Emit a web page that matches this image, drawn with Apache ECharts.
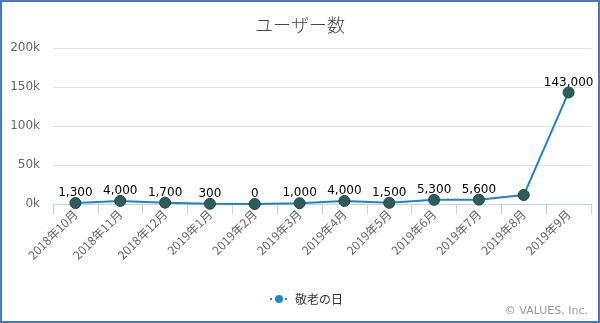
<!DOCTYPE html>
<html>
<head>
  <meta charset="utf-8">
  <title>ユーザー数</title>
  <style>
    html, body { margin: 0; padding: 0; background: #fff; }
    #main { width: 600px; height: 323px; }
    #frame { position: absolute; left: 0; top: 0; width: 600px; height: 323px;
      box-sizing: border-box; border: 2px solid #4a78b8; pointer-events: none; }
  </style>
</head>
<body>
  <div id="main"></div>
  <div id="frame"></div>
  <script src="https://cdn.jsdelivr.net/npm/echarts@6/dist/echarts.min.js"></script>
  <script>
  // 月
  var months = ['2018年10月', '2018年11月', '2018年12月', '2019年1月', '2019年2月', '2019年3月',
    '2019年4月', '2019年5月', '2019年6月', '2019年7月', '2019年8月', '2019年9月'];
  // ユーザー数（8月はラベルなし）
  var users = [1300, 4000, 1700, 300, 0, 1000, 4000, 1500, 5300, 5600, 11500, 143000];
  var hideLabel = [false, false, false, false, false, false, false, false, false, false, true, false];
  var seriesName = '敬老の日';

  var jp = '"Noto Sans CJK JP", sans-serif';

  var option = {
    animation: false,
    title: {
      text: 'ユーザー数',
      left: 'center',
      top: 11,
      textStyle: { fontSize: 18, fontWeight: 300, color: '#444', fontFamily: jp }
    },
    grid: { left: 53, right: 9, top: 48, bottom: 119, containLabel: false },
    legend: {
      data: [{ name: seriesName, itemStyle: { color: '#1a8ad0', borderWidth: 0 } }],
      left: 264,
      top: 288,
      itemWidth: 18,
      itemHeight: 10,
      itemGap: 6,
      lineStyle: { color: '#1a8ad0', width: 2, type: [2, 3] },
      textStyle: { fontSize: 12, color: '#333', fontFamily: jp, padding: [0, 0, 0, 2] }
    },
    xAxis: {
      type: 'category',
      data: months,
      boundaryGap: true,
      axisLine: { lineStyle: { color: '#c4d2e8', width: 1 } },
      axisTick: { show: true, alignWithLabel: false, length: 10, lineStyle: { color: '#c4d2e8', width: 1 } },
      axisLabel: { rotate: 45, color: '#666', fontSize: 12, margin: 8, fontFamily: jp, interval: 0 }
    },
    yAxis: {
      type: 'value',
      min: 0,
      max: 200000,
      interval: 50000,
      axisLine: { show: false },
      axisTick: { show: false },
      splitLine: { lineStyle: { color: '#e3e3e3' } },
      axisLabel: {
        color: '#666', fontSize: 12, margin: 13, fontFamily: '"DejaVu Sans", sans-serif',
        formatter: function (v) { return (v / 1000) + 'k'; }
      }
    },
    series: [{
      name: seriesName,
      type: 'line',
      data: users.map(function (v, i) {
        return { value: v, label: { show: !hideLabel[i] } };
      }),
      symbol: 'circle',
      symbolSize: 11,
      itemStyle: { color: '#2b5e5b', borderColor: '#1e4744', borderWidth: 1 },
      lineStyle: { color: '#1a85c9', width: 2 },
      label: {
        show: true,
        position: 'top',
        distance: -2,
        color: '#000',
        fontSize: 12,
        fontFamily: '"DejaVu Sans", sans-serif',
        formatter: function (p) { return p.value.toLocaleString('en-US'); }
      }
    }],
    graphic: [{
      type: 'text',
      right: 12,
      top: 306,
      style: { text: '© VALUES, Inc.', fill: '#999', fontSize: 11, fontFamily: '"DejaVu Sans", sans-serif' }
    }]
  };

  echarts.init(document.getElementById('main')).setOption(option);
  </script>
</body>
</html>
